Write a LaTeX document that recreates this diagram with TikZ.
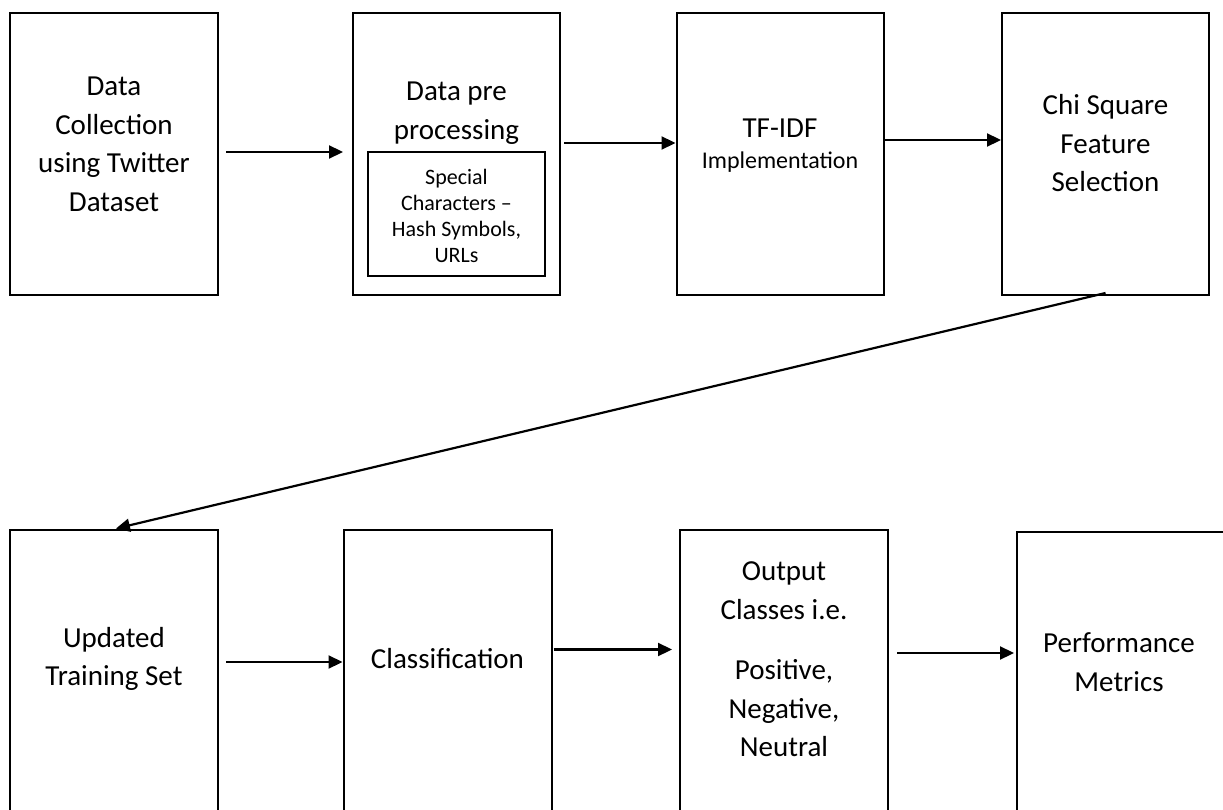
\documentclass[tikz,border=0pt]{standalone}
\usepackage{fontspec}
\setmainfont{Carlito}
\usetikzlibrary{arrows.meta}
\begin{document}
\begin{tikzpicture}[x=1pt,y=-1pt,
    box/.style={draw=black,line width=2pt,minimum width=208pt,minimum height=282pt,inner sep=0pt},
    lowbox/.style={box,minimum height=285pt},
    txt/.style={align=center,inner sep=0pt,font=\fontsize{29}{38.5}\selectfont},
    small/.style={align=center,inner sep=0pt,font=\fontsize{22}{26}\selectfont},
    arr/.style={line width=2.2pt,-{Triangle[length=14pt,width=13pt]}}]
    \useasboundingbox (0,0) rectangle (1223,810);
    \clip (0,0) rectangle (1223,810);

    % Place the top boxes
    \node[box] (b1) at (114,154) {};
    \node[box,minimum width=207pt] (b2) at (456.5,154) {};
    \node[box,minimum width=177pt,minimum height=124pt] (b2in) at (456.5,214) {};
    \node[box,minimum width=207pt] (b3) at (780,154) {};
    \node[box,minimum width=207pt] (b4) at (1105.5,154) {};

    % Place the bottom boxes
    \node[lowbox] (b5) at (114,672.5) {};
    \node[lowbox] (b6) at (447.5,672.5) {};
    \node[lowbox] (b7) at (784,672.5) {};
    \node[lowbox,minimum width=210pt,minimum height=283pt] (b8) at (1122,673.5) {};

    % The texts
    \node[txt] (t1) at (114,144.5) {Data\\Collection\\using Twitter\\Dataset};
    \node[txt] (t2) at (456.5,113) {Data pre\\processing};
    \node[small] (t2in) at (456.5,216) {Special\\Characters –\\Hash Symbols,\\URLs};
    \node[txt] (t3) at (780,128) {TF-IDF};
    \node[inner sep=0pt,font=\fontsize{24}{30}\selectfont] (t3b) at (780,162) {Implementation};
    \node[txt] (t4) at (1105.5,143.5) {Chi Square\\Feature\\Selection};
    \node[txt] (t5) at (114,659) {Updated\\Training Set};
    \node[txt] (t6) at (447.5,659) {Classification};
    \node[txt] (t7) at (784,659.5) {Output\\Classes i.e.\\[22pt]Positive,\\Negative,\\Neutral};
    \node[txt] (t8) at (1119,662) {Performance\\Metrics};

    % The arrows!
    \draw[arr,shorten <=7pt,shorten >=9pt] ([yshift=2pt]b1.east) -- ([yshift=2pt]b2.west);
    \draw[arr,shorten <=3pt] ([yshift=11pt]b2.east) -- ([yshift=11pt]b3.west);
    \draw[arr] ([yshift=14pt]b3.east) -- ([yshift=14pt]b4.west);
    \draw[arr,shorten >=2pt] ([yshift=3pt]b4.south) -- (b5.north);
    \draw[arr,shorten <=7pt] ([yshift=10.5pt]b5.east) -- ([yshift=10.5pt]b6.west);
    \draw[arr,shorten <=1pt,shorten >=7pt] ([yshift=23pt]b6.east) -- ([yshift=23pt]b7.west);
    \draw[arr,shorten <=8pt,shorten >=2pt] ([yshift=19.5pt]b7.east) -- ([yshift=20.5pt]b8.west);
\end{tikzpicture}
\end{document}
